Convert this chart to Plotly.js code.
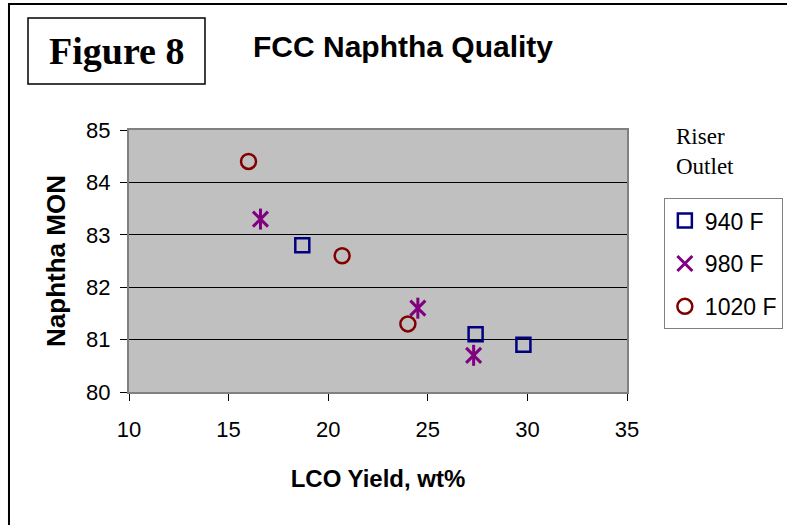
<!DOCTYPE html>
<html>
<head>
<meta charset="utf-8">
<script src="https://cdn.plot.ly/plotly-3.0.1.min.js"></script>
<style>
  html, body { margin: 0; padding: 0; background: #ffffff; }
  #chart { width: 787px; height: 525px; }
</style>
</head>
<body>
<div id="chart"></div>
<script>
// Naphtha MON against LCO yield for three riser outlet temperatures
const seriesNames = ['940 F', '980 F', '1020 F'];

const lco940 = [18.7, 27.4, 29.8];
const mon940 = [82.8, 81.1, 80.9];

const lco980 = [16.6, 24.5, 27.3];
const mon980 = [83.3, 81.6, 80.7];

const lco1020 = [16.0, 20.7, 24.0];
const mon1020 = [84.4, 82.6, 81.3];

const xTicks = [10, 15, 20, 25, 30, 35];
const yTicks = [80, 81, 82, 83, 84, 85];

const sans = 'Arial, "Liberation Sans", sans-serif';
const serif = '"Times New Roman", "Liberation Serif", serif';

const traces = [
  {
    x: lco940, y: mon940, name: seriesNames[0], type: 'scatter', mode: 'markers',
    legendgroup: 'g940',
    marker: { symbol: 'square-open', size: 14, color: '#000080', line: { width: 2.5, color: '#000080' } }
  },
  {
    x: lco980, y: mon980, name: seriesNames[1], type: 'scatter', mode: 'markers',
    legendgroup: 'g980',
    marker: { symbol: 'x-thin-open', size: 15, color: '#800080', line: { width: 3, color: '#800080' } }
  },
  {
    // vertical stroke completing the six-armed star
    x: lco980, y: mon980, name: seriesNames[1], type: 'scatter', mode: 'markers',
    legendgroup: 'g980', showlegend: false, hoverinfo: 'skip',
    marker: { symbol: 'line-ns-open', size: 15, color: '#800080', line: { width: 3, color: '#800080' } }
  },
  {
    x: lco1020, y: mon1020, name: seriesNames[2], type: 'scatter', mode: 'markers',
    legendgroup: 'g1020',
    marker: { symbol: 'circle-open', size: 15, color: '#800000', line: { width: 2.5, color: '#800000' } }
  }
];

const layout = {
  width: 787,
  height: 525,
  margin: { l: 129, r: 160, t: 130, b: 133, autoexpand: false },
  paper_bgcolor: '#ffffff',
  plot_bgcolor: '#c0c0c0',
  font: { family: sans, color: '#000000', size: 22 },
  showlegend: true,
  xaxis: {
    range: [10, 35],
    tickvals: xTicks,
    ticktext: xTicks.map(String),
    ticks: 'outside', ticklen: 7, tickwidth: 1, tickcolor: '#000000',
    ticklabelstandoff: 10,
    showgrid: false, zeroline: false,
    showline: true, linecolor: '#808080', linewidth: 2, mirror: true,
    tickfont: { family: sans, size: 22, color: '#000000' },
    title: { text: '<b>LCO Yield, wt%</b>', font: { family: sans, size: 24, color: '#000000' }, standoff: 29 }
  },
  yaxis: {
    range: [80, 85],
    tickvals: yTicks,
    ticktext: yTicks.map(String),
    ticks: 'outside', ticklen: 7, tickwidth: 1, tickcolor: '#000000',
    ticklabelstandoff: 5,
    showgrid: true, gridcolor: '#000000', gridwidth: 1,
    zeroline: false,
    showline: true, linecolor: '#808080', linewidth: 2, mirror: true,
    tickfont: { family: sans, size: 22, color: '#000000' },
    title: { text: '<b>Naphtha MON</b>', font: { family: sans, size: 26, color: '#000000' }, standoff: 13 }
  },
  legend: {
    x: 1.074, y: 0.74, xanchor: 'left', yanchor: 'top',
    bgcolor: '#ffffff', bordercolor: '#808080', borderwidth: 1,
    font: { family: sans, size: 23, color: '#000000' },
    traceorder: 'grouped', tracegroupgap: 10,
    itemwidth: 30
  },
  shapes: [
    // outer frame (left and top edges visible)
    { type: 'rect', xref: 'paper', yref: 'paper', x0: -0.241, x1: 1.5, y0: -1.0, y1: 1.481,
      line: { color: '#000000', width: 2 }, fillcolor: 'rgba(0,0,0,0)' },
    // box around the figure label
    { type: 'rect', xref: 'paper', yref: 'paper', x0: -0.2028, x1: 0.1526, y0: 1.1756, y1: 1.4275,
      line: { color: '#000000', width: 1.5 }, fillcolor: 'rgba(0,0,0,0)' }
  ],
  annotations: [
    { text: '<b>Figure 8</b>', xref: 'paper', yref: 'paper', x: -0.026, y: 1.30,
      xanchor: 'center', yanchor: 'middle', showarrow: false,
      font: { family: serif, size: 38, color: '#000000' } },
    { text: '<b>FCC Naphtha Quality</b>', xref: 'paper', yref: 'paper', x: 0.551, y: 1.32,
      xanchor: 'center', yanchor: 'middle', showarrow: false,
      font: { family: sans, size: 30, color: '#000000' } },
    { text: 'Riser<br>Outlet', xref: 'paper', yref: 'paper', x: 1.094, y: 1.03,
      xanchor: 'left', yanchor: 'top', align: 'left', showarrow: false,
      font: { family: serif, size: 23, color: '#000000' } }
  ]
};

Plotly.newPlot('chart', traces, layout, { displayModeBar: false, staticPlot: true });
</script>
</body>
</html>
